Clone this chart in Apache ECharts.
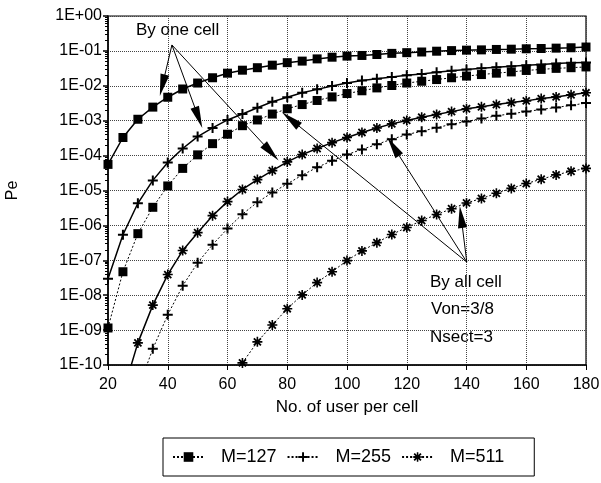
<!DOCTYPE html>
<html>
<head>
<meta charset="utf-8">
<title>Pe vs. users per cell</title>
<script src="https://cdn.jsdelivr.net/npm/echarts@6/dist/echarts.min.js"></script>
<style>
  html, body { margin: 0; padding: 0; background: #fff; }
  #chart { width: 601px; height: 483px; }
</style>
</head>
<body>
<div id="chart"></div>
<script>
// number of users per cell (step 5)
const users = [20, 25, 30, 35, 40, 45, 50, 55, 60, 65, 70, 75, 80, 85, 90, 95, 100,
  105, 110, 115, 120, 125, 130, 135, 140, 145, 150, 155, 160, 165, 170, 175, 180];

// "by one cell" curves (solid)
const m127One = [5.6e-5, 3.3e-4, 1.1e-3, 2.45e-3, 4.7e-3, 8.1e-3, 0.012, 0.017, 0.023, 0.028, 0.033,
  0.039, 0.046, 0.051, 0.059, 0.066, 0.071, 0.074, 0.079, 0.085, 0.089, 0.093, 0.098, 0.102,
  0.105, 0.107, 0.110, 0.112, 0.115, 0.117, 0.120, 0.123, 0.129];
const m255One = [2.95e-8, 5.4e-7, 4.3e-6, 1.95e-5, 6.3e-5, 1.6e-4, 3.5e-4, 6.2e-4, 1.05e-3, 1.55e-3,
  2.35e-3, 3.5e-3, 4.7e-3, 6.3e-3, 7.9e-3, 9.8e-3, 0.012, 0.0141, 0.0158, 0.0178, 0.020, 0.0219,
  0.0245, 0.0269, 0.0295, 0.0316, 0.0339, 0.0363, 0.0389, 0.0407, 0.0437, 0.0457, 0.0468];
// starts at 25 users
const m511One = [1.6e-11, 4.3e-10, 5.2e-9, 3.9e-8, 1.9e-7, 6.2e-7, 1.9e-6, 4.8e-6, 1.07e-5, 2.05e-5,
  3.7e-5, 6.6e-5, 1.07e-4, 1.6e-4, 2.35e-4, 3.3e-4, 4.6e-4, 6.2e-4, 8.1e-4, 1.02e-3, 1.26e-3,
  1.5e-3, 1.82e-3, 2.2e-3, 2.5e-3, 2.9e-3, 3.3e-3, 3.7e-3, 4.3e-3, 4.8e-3, 5.5e-3, 6.3e-3];

// "by all cell" curves (dotted)
const m127All = [1.15e-9, 4.7e-8, 5.8e-7, 3.3e-6, 1.35e-5, 4.3e-5, 1.05e-4, 2.2e-4, 4.1e-4, 7.2e-4,
  1.05e-3, 1.55e-3, 2.2e-3, 2.9e-3, 3.8e-3, 4.8e-3, 6.0e-3, 7.2e-3, 8.7e-3, 0.0102, 0.012, 0.0135,
  0.0151, 0.017, 0.019, 0.021, 0.023, 0.025, 0.0275, 0.0295, 0.0316, 0.033, 0.0347];
// starts at 30 users
const m255All = [2e-11, 2.9e-10, 2.75e-9, 1.86e-8, 8.5e-8, 2.8e-7, 8.1e-7, 2.1e-6, 4.6e-6, 8.7e-6,
  1.55e-5, 2.75e-5, 4.6e-5, 7.1e-5, 1.07e-4, 1.5e-4, 2.1e-4, 2.95e-4, 4.0e-4, 5.0e-4, 6.3e-4,
  7.9e-4, 9.5e-4, 1.15e-3, 1.38e-3, 1.58e-3, 1.82e-3, 2.1e-3, 2.4e-3, 2.75e-3, 3.2e-3];
// starts at 60 users
const m511All = [1e-11, 1.15e-10, 4.6e-10, 1.4e-9, 4.1e-9, 1.02e-8, 2.3e-8, 4.7e-8, 9.8e-8, 1.86e-7,
  3.2e-7, 5.5e-7, 8.7e-7, 1.38e-6, 2.05e-6, 3.0e-6, 4.4e-6, 5.9e-6, 8.3e-6, 1.15e-5, 1.58e-5,
  2.1e-5, 2.8e-5, 3.55e-5, 4.3e-5];

const legendNames = ["M=127", "M=255", "M=511"];

// annotation arrows (data coords: users, Pe)
const oneCellFrom = [41.4, 0.148];
const oneCellTo = [[38.2, 0.0103], [50.3, 1.23e-3], [74.6, 1.23e-4]];
const allCellFrom = [140.1, 8.9e-8];
const allCellTo = [[81.1, 1.1e-3], [115.5, 1.83e-4], [138.2, 1.75e-6]];

const FONT = "Liberation Sans, Arial, sans-serif";
const plusPath = "path://M-1,-5L1,-5L1,-1L5,-1L5,1L1,1L1,5L-1,5L-1,1L-5,1L-5,-1L-1,-1Z";
const starPath = "path://M-0.8,-5L0.8,-5L0.8,5L-0.8,5Z M-5,-0.8L5,-0.8L5,0.8L-5,0.8Z " +
  "M4.18,2.9L2.9,4.18L-4.18,-2.9L-2.9,-4.18Z M2.9,-4.18L4.18,-2.9L-2.9,4.18L-4.18,2.9Z";
const arrowHead = "path://M0,0L4.5,22L-4.5,22Z";

function toPairs(values) {
  const off = users.length - values.length;
  return values.map((v, i) => [users[off + i], v]);
}

function arrows(from, tos) {
  return {
    silent: true,
    symbol: ["none", arrowHead],
    symbolSize: 22,
    symbolKeepAspect: true,
    label: { show: false },
    lineStyle: { color: "#000", width: 1, type: "solid" },
    emphasis: { disabled: true },
    data: tos.map(t => [{ coord: from }, { coord: t }])
  };
}

function makeSeries(name, values, dotted, symbol, size, markLine) {
  const s = {
    name: name,
    type: "line",
    data: toPairs(values),
    symbol: symbol,
    symbolSize: size,
    showSymbol: true,
    clip: true,
    color: "#000",
    itemStyle: { color: "#000" },
    lineStyle: { color: "#000", width: dotted ? 1 : 1.5, type: dotted ? [2, 2] : "solid" },
    emphasis: { disabled: true }
  };
  if (markLine) s.markLine = markLine;
  return s;
}

const chart = echarts.init(document.getElementById("chart"));
chart.setOption({
  animation: false,
  backgroundColor: "#fff",
  grid: {
    left: 108, right: 15, top: 16, bottom: 118,
    outerBoundsMode: "none", containLabel: false,
    show: true, borderColor: "#000", borderWidth: 1.2, backgroundColor: "transparent"
  },
  legend: {
    data: legendNames,
    left: 163, top: 438,
    itemWidth: 31, itemHeight: 12, itemGap: 10,
    padding: [10, 30, 10, 9],
    borderColor: "#000", borderWidth: 1,
    textStyle: { fontFamily: FONT, fontSize: 18, color: "#000", padding: [0, 0, 0, 12] }
  },
  xAxis: {
    type: "value", min: 20, max: 180, interval: 20,
    name: "No. of user per cell", nameLocation: "middle", nameGap: 34,
    nameTextStyle: { fontFamily: FONT, fontSize: 17, color: "#000" },
    axisLine: { show: true, lineStyle: { color: "#000", width: 1.5 } },
    axisTick: { show: true, length: 5, lineStyle: { color: "#000" } },
    axisLabel: { fontFamily: FONT, fontSize: 16, color: "#000", margin: 12 },
    splitLine: { show: true, lineStyle: { type: "dotted", color: "#444", width: 1 } }
  },
  yAxis: {
    type: "log", logBase: 10, min: 1e-10, max: 1, interval: 1, splitNumber: 10,
    name: "Pe", nameLocation: "middle", nameGap: 87, nameRotate: 90,
    nameTextStyle: { fontFamily: FONT, fontSize: 16, color: "#000" },
    axisLine: { show: true, lineStyle: { color: "#000", width: 1.5 } },
    axisTick: { show: true, length: 5, lineStyle: { color: "#000", width: 1.5 } },
    minorTick: { show: true, splitNumber: 9, length: 3, lineStyle: { color: "#000" } },
    axisLabel: {
      fontFamily: FONT, fontSize: 16, color: "#000", margin: 6,
      formatter: function (v) {
        const e = Math.round(Math.log10(v));
        return "1E" + (e >= 0 ? "+" : "-") + String(Math.abs(e)).padStart(2, "0");
      }
    },
    splitLine: { show: true, lineStyle: { type: "dotted", color: "#444", width: 1 } }
  },
  graphic: [
    { type: "text", left: 136, top: 22, style: { text: "By one cell", font: "17px " + FONT, fill: "#000" } },
    { type: "text", left: 430, top: 274, style: { text: "By all cell", font: "17px " + FONT, fill: "#000" } },
    { type: "text", left: 431, top: 301, style: { text: "Von=3/8", font: "17px " + FONT, fill: "#000" } },
    { type: "text", left: 430, top: 329, style: { text: "Nsect=3", font: "17px " + FONT, fill: "#000" } }
  ],
  series: [
    makeSeries("M=127", m127All, true, "rect", 9, arrows(allCellFrom, allCellTo)),
    makeSeries("M=255", m255All, true, plusPath, 10),
    makeSeries("M=511", m511All, true, starPath, 10),
    makeSeries("M=127", m127One, false, "rect", 9, arrows(oneCellFrom, oneCellTo)),
    makeSeries("M=255", m255One, false, plusPath, 10),
    makeSeries("M=511", m511One, false, starPath, 10)
  ]
});
window.addEventListener("resize", () => chart.resize());
</script>
</body>
</html>
